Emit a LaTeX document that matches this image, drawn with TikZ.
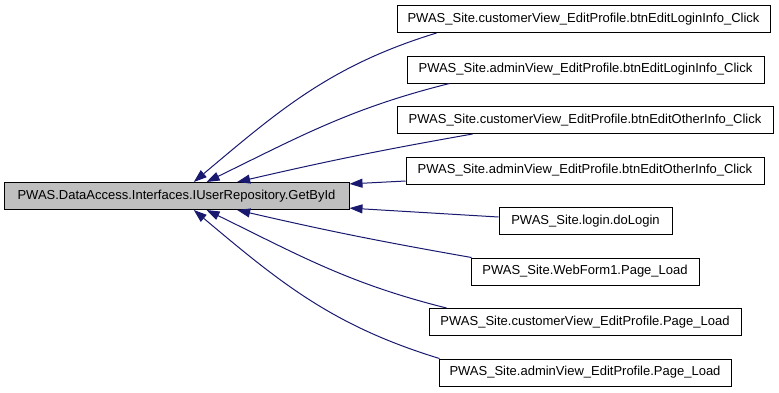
\documentclass[tikz,border=0pt]{standalone}
\usepackage{fontspec}
\setmainfont{Liberation Sans}
\usetikzlibrary{arrows.meta}
\definecolor{edgeblue}{RGB}{25,25,112}
\definecolor{mainfill}{RGB}{191,191,191}

\begin{document}
\begin{tikzpicture}[x=1pt, y=-1pt,
    fn/.style={draw=black, line width=1pt, minimum height=27pt, inner sep=0pt,
        font=\fontsize{13}{15}\selectfont},
    call/.style={draw=edgeblue, line width=1pt,
        {Triangle[length=13pt, width=9pt, fill=edgeblue]}-}]
    \useasboundingbox (0, 0) rectangle (779, 392);
    % callee on the left
    \node[fn, fill=mainfill, minimum width=345pt] (getbyid) at (176.5, 196) {PWAS.DataAccess.Interfaces.IUserRepository.GetById};
    % callers on the right
    \node[fn, minimum width=373pt] (custlogin) at (583.5, 19) {PWAS\_Site.customerView\_EditProfile.btnEditLoginInfo\_Click};
    \node[fn, minimum width=357pt] (admlogin) at (585.5, 69.5) {PWAS\_Site.adminView\_EditProfile.btnEditLoginInfo\_Click};
    \node[fn, minimum width=376pt] (custother) at (585, 120) {PWAS\_Site.customerView\_EditProfile.btnEditOtherInfo\_Click};
    \node[fn, minimum width=358pt] (admother) at (585, 170.5) {PWAS\_Site.adminView\_EditProfile.btnEditOtherInfo\_Click};
    \node[fn, minimum width=173pt] (dologin) at (585.5, 221) {PWAS\_Site.login.doLogin};
    \node[fn, minimum width=228pt] (webform) at (585, 271.5) {PWAS\_Site.WebForm1.Page\_Load};
    \node[fn, minimum width=312pt] (custload) at (585, 322) {PWAS\_Site.customerView\_EditProfile.Page\_Load};
    \node[fn, minimum width=292pt] (admload) at (585, 372.5) {PWAS\_Site.adminView\_EditProfile.Page\_Load};
    % call edges
    \draw[call] (getbyid.39) to[out=40, in=197] ([xshift=40pt]custlogin.south west);
    \draw[call] (getbyid.25) to[out=26, in=194] ([xshift=43pt]admlogin.south west);
    \draw[call] (getbyid.13) to[out=13, in=190] ([xshift=76pt]custother.south west);
    \draw[call] (getbyid.4.3) -- ([yshift=-10.5pt]admother.west);
    \draw[call] (getbyid.-4) -- ([yshift=4pt]dologin.west);
    \draw[call] (getbyid.-13) to[out=-13, in=170] ([xshift=1pt]webform.north west);
    \draw[call] (getbyid.-25) to[out=-26, in=166] ([xshift=18pt]custload.north west);
    \draw[call] (getbyid.-39) to[out=-40, in=163] ([xshift=1pt]admload.north west);
\end{tikzpicture}
\end{document}
